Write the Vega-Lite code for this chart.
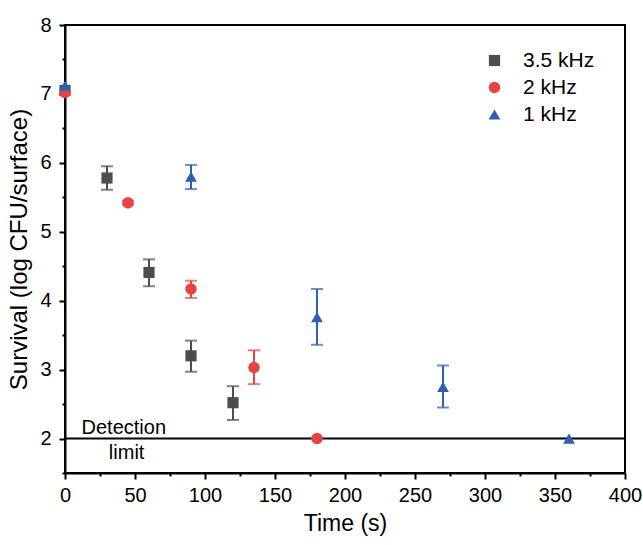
{
  "$schema": "https://vega.github.io/schema/vega-lite/v6.json",
  "width": 560,
  "height": 448,
  "autosize": {"type": "none"},
  "padding": {"left": 65, "top": 25, "right": 18, "bottom": 72},
  "background": "white",
  "config": {
    "font": "Liberation Sans",
    "view": {"stroke": "black", "strokeWidth": 2},
    "axis": {"domainColor": "black", "domainWidth": 2, "tickColor": "black", "tickWidth": 2, "labelColor": "black", "titleColor": "black", "labelFontSize": 20, "titleFontSize": 23, "titleFontWeight": "normal", "grid": false},
    "legend": {"symbolOpacity": 1}
  },
  "datasets": {
    "pts": [
      {"series": "3.5 kHz", "t": 0, "y": 7.05, "lo": null, "hi": null},
      {"series": "3.5 kHz", "t": 30, "y": 5.78, "lo": 5.61, "hi": 5.95},
      {"series": "3.5 kHz", "t": 60, "y": 4.41, "lo": 4.21, "hi": 4.6},
      {"series": "3.5 kHz", "t": 90, "y": 3.2, "lo": 2.97, "hi": 3.42},
      {"series": "3.5 kHz", "t": 120, "y": 2.52, "lo": 2.27, "hi": 2.76},
      {"series": "2 kHz", "t": 0, "y": 7.02, "lo": null, "hi": null},
      {"series": "2 kHz", "t": 45, "y": 5.42, "lo": 5.39, "hi": 5.45},
      {"series": "2 kHz", "t": 90, "y": 4.17, "lo": 4.04, "hi": 4.29},
      {"series": "2 kHz", "t": 135, "y": 3.03, "lo": 2.79, "hi": 3.28},
      {"series": "2 kHz", "t": 180, "y": 2.0, "lo": null, "hi": null},
      {"series": "1 kHz", "t": 0, "y": 7.12, "lo": null, "hi": null},
      {"series": "1 kHz", "t": 90, "y": 5.8, "lo": 5.62, "hi": 5.97},
      {"series": "1 kHz", "t": 180, "y": 3.76, "lo": 3.36, "hi": 4.17},
      {"series": "1 kHz", "t": 270, "y": 2.75, "lo": 2.45, "hi": 3.06},
      {"series": "1 kHz", "t": 360, "y": 2.0, "lo": null, "hi": null}
    ],
    "notes": [
      {"label": "Detection", "t": 42, "y": 2.15},
      {"label": "limit", "t": 44, "y": 1.79}
    ]
  },
  "encoding": {
    "x": {
      "field": "t", "type": "quantitative",
      "scale": {"domain": [0, 400], "nice": false, "zero": false},
      "axis": {
        "title": "Time (s)", "titlePadding": 7,
        "values": [0, 25, 50, 75, 100, 125, 150, 175, 200, 225, 250, 275, 300, 325, 350, 375, 400],
        "labelExpr": "datum.value % 50 === 0 ? format(datum.value, 'd') : ''",
        "tickSize": {"condition": {"test": "datum.value % 50 === 0", "value": 6}, "value": 3},
        "labelPadding": 6, "labelOverlap": false, "labelFlush": false
      }
    },
    "y": {
      "field": "y", "type": "quantitative",
      "scale": {"domain": [1.5, 8], "nice": false, "zero": false},
      "axis": {
        "title": "Survival (log CFU/surface)", "titlePadding": 8, "titleFontSize": 24,
        "values": [1.5, 2, 2.5, 3, 3.5, 4, 4.5, 5, 5.5, 6, 6.5, 7, 7.5, 8],
        "labelExpr": "datum.value % 1 === 0 ? format(datum.value, 'd') : ''",
        "tickSize": {"condition": {"test": "datum.value % 1 === 0", "value": 6}, "value": 3},
        "labelPadding": 8, "labelOverlap": false, "labelFlush": false
      }
    }
  },
  "layer": [
    {
      "data": {"values": [{"v": 2}]},
      "mark": {"type": "rule", "color": "black", "strokeWidth": 2},
      "encoding": {"y": {"field": "v", "type": "quantitative"}, "x": null}
    },
    {
      "data": {"name": "notes"},
      "mark": {"type": "text", "fontSize": 20, "color": "black", "align": "center", "baseline": "middle"},
      "encoding": {"text": {"field": "label"}}
    },
    {
      "data": {"name": "pts"},
      "transform": [{"filter": "datum.lo != null"}],
      "mark": {"type": "rule", "strokeWidth": 2},
      "encoding": {
        "y": {"field": "lo", "type": "quantitative"},
        "y2": {"field": "hi"},
        "color": {"field": "series", "type": "nominal"}
      }
    },
    {
      "data": {"name": "pts"},
      "transform": [{"filter": "datum.lo != null"}],
      "mark": {"type": "tick", "orient": "horizontal", "size": 12, "thickness": 2},
      "encoding": {
        "y": {"field": "lo", "type": "quantitative"},
        "color": {"field": "series", "type": "nominal"}
      }
    },
    {
      "data": {"name": "pts"},
      "transform": [{"filter": "datum.lo != null"}],
      "mark": {"type": "tick", "orient": "horizontal", "size": 12, "thickness": 2},
      "encoding": {
        "y": {"field": "hi", "type": "quantitative"},
        "color": {"field": "series", "type": "nominal"}
      }
    },
    {
      "data": {"name": "pts"},
      "mark": {"type": "point", "filled": true, "opacity": 1},
      "encoding": {
        "size": {
          "field": "series", "type": "nominal",
          "scale": {"domain": ["3.5 kHz", "2 kHz", "1 kHz"], "range": [125, 140, 260]},
          "legend": null
        },
        "color": {
          "field": "series", "type": "nominal",
          "scale": {"domain": ["3.5 kHz", "2 kHz", "1 kHz"], "range": ["#4d4d4d", "#e84343", "#2f5fb3"]},
          "legend": {"title": null, "orient": "none", "legendX": 419, "legendY": 25, "labelFontSize": 21, "labelColor": "black", "symbolSize": 150, "rowPadding": 5, "labelOffset": 18, "symbolStrokeWidth": 0, "symbolOpacity": 1}
        },
        "shape": {
          "field": "series", "type": "nominal",
          "scale": {"domain": ["3.5 kHz", "2 kHz", "1 kHz"], "range": ["square", "circle", "triangle-up"]},
          "legend": {"title": null, "orient": "none", "legendX": 419, "legendY": 25, "labelFontSize": 21, "labelColor": "black", "symbolSize": 150, "rowPadding": 5, "labelOffset": 18, "symbolStrokeWidth": 0, "symbolOpacity": 1}
        }
      }
    }
  ]
}
